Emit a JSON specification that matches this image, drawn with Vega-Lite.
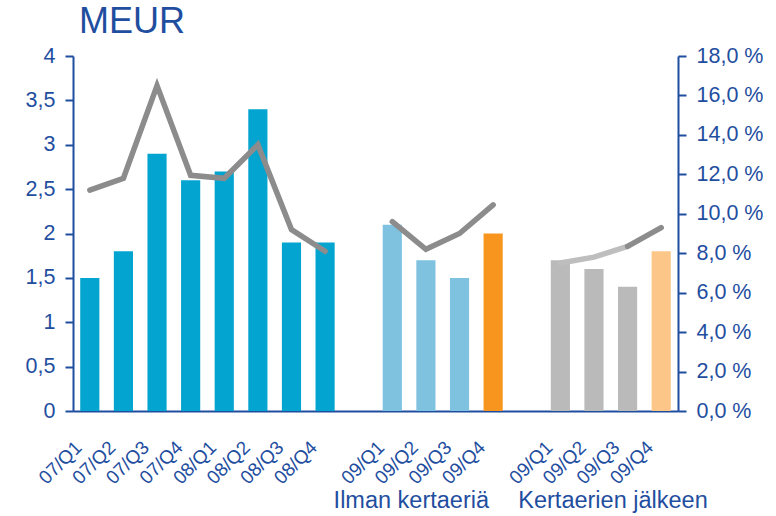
{
  "$schema": "https://vega.github.io/schema/vega-lite/v6.json",
  "width": 605,
  "height": 355,
  "autosize": {"type": "none"},
  "padding": {"left": 73, "top": 56, "right": 98, "bottom": 105},
  "background": "white",
  "title": {"text": "MEUR", "anchor": "start", "frame": "group", "fontSize": 36, "font": "Liberation Sans", "fontWeight": "normal", "color": "#1F4E9F", "dx": 6, "offset": -24, "baseline": "alphabetic"},
  "config": {"view": {"stroke": null}, "font": "Liberation Sans"},
  "datasets": {
    "bars": [
      {"k": "07/Q1", "s": "hist", "v": 1.5},
      {"k": "07/Q2", "s": "hist", "v": 1.8},
      {"k": "07/Q3", "s": "hist", "v": 2.9},
      {"k": "07/Q4", "s": "hist", "v": 2.6},
      {"k": "08/Q1", "s": "hist", "v": 2.7},
      {"k": "08/Q2", "s": "hist", "v": 3.4},
      {"k": "08/Q3", "s": "hist", "v": 1.9},
      {"k": "08/Q4", "s": "hist", "v": 1.9},
      {"k": "b:09/Q1", "s": "ilman", "v": 2.1},
      {"k": "b:09/Q2", "s": "ilman", "v": 1.7},
      {"k": "b:09/Q3", "s": "ilman", "v": 1.5},
      {"k": "b:09/Q4", "s": "ilmanQ4", "v": 2.0},
      {"k": "c:09/Q1", "s": "kerta", "v": 1.7},
      {"k": "c:09/Q2", "s": "kerta", "v": 1.6},
      {"k": "c:09/Q3", "s": "kerta", "v": 1.4},
      {"k": "c:09/Q4", "s": "kertaQ4", "v": 1.8}
    ],
    "lines": [
      {"k": "07/Q1", "s": "A", "p": 11.2},
      {"k": "07/Q2", "s": "A", "p": 11.8},
      {"k": "07/Q3", "s": "A", "p": 16.5},
      {"k": "07/Q4", "s": "A", "p": 11.95},
      {"k": "08/Q1", "s": "A", "p": 11.8},
      {"k": "08/Q2", "s": "A", "p": 13.5},
      {"k": "08/Q3", "s": "A", "p": 9.2},
      {"k": "08/Q4", "s": "A", "p": 8.1},
      {"k": "b:09/Q1", "s": "B", "p": 9.6},
      {"k": "b:09/Q2", "s": "B", "p": 8.2},
      {"k": "b:09/Q3", "s": "B", "p": 9.0},
      {"k": "b:09/Q4", "s": "B", "p": 10.45},
      {"k": "c:09/Q1", "s": "C1", "p": 7.5},
      {"k": "c:09/Q2", "s": "C1", "p": 7.8},
      {"k": "c:09/Q3", "s": "C1", "p": 8.35},
      {"k": "c:09/Q3", "s": "C2", "p": 8.35},
      {"k": "c:09/Q4", "s": "C2", "p": 9.3}
    ],
    "groups": [
      {"k": "b:09/Q2", "t": "Ilman kertaeriä"},
      {"k": "c:09/Q3", "t": "Kertaerien jälkeen"}
    ]
  },
  "layer": [
    {
      "data": {"name": "bars"},
      "mark": {"type": "bar"},
      "encoding": {
        "x": {
          "field": "k", "type": "nominal", "sort": null,
          "scale": {
            "domain": ["07/Q1", "07/Q2", "07/Q3", "07/Q4", "08/Q1", "08/Q2", "08/Q3", "08/Q4", "g1", "b:09/Q1", "b:09/Q2", "b:09/Q3", "b:09/Q4", "g2", "c:09/Q1", "c:09/Q2", "c:09/Q3", "c:09/Q4"],
            "paddingInner": 0.43, "paddingOuter": 0.215
          },
          "axis": {
            "title": null, "ticks": false, "domainColor": "#1F4E9F", "domainWidth": 2,
            "labelAngle": -45, "labelAlign": "right", "labelBaseline": "middle", "labelPadding": 33, "labelOffset": -11,
            "labelFontSize": 19, "labelColor": "#1F4E9F", "labelFont": "Liberation Sans",
            "labelExpr": "indexof(datum.value, 'g') == 0 ? '' : replace(replace(datum.value, 'b:', ''), 'c:', '')"
          }
        },
        "y": {
          "field": "v", "type": "quantitative",
          "scale": {"domain": [0, 4], "nice": false},
          "axis": {
            "title": null, "values": [0, 0.5, 1, 1.5, 2, 2.5, 3, 3.5, 4], "format": ".1~f",
            "labelExpr": "replace(datum.label, '.', ',')",
            "grid": false, "domainColor": "#1F4E9F", "domainWidth": 2, "tickColor": "#1F4E9F", "tickWidth": 2, "tickSize": 8,
            "labelPadding": 10, "labelFontSize": 21.5, "labelColor": "#1F4E9F", "labelFont": "Liberation Sans",
            "encode": {"ticks": {"update": {"x": {"value": 8}}}}
          }
        },
        "color": {
          "field": "s", "type": "nominal", "legend": null,
          "scale": {
            "domain": ["hist", "ilman", "ilmanQ4", "kerta", "kertaQ4", "A", "B", "C1", "C2"],
            "range": ["#04A4D0", "#7EC2E0", "#F7951F", "#BABABA", "#FCC688", "#8C8C8C", "#8C8C8C", "#BEBEBE", "#8C8C8C"]
          }
        }
      }
    },
    {
      "data": {"name": "lines"},
      "mark": {"type": "line", "strokeWidth": 5.5, "strokeCap": "round", "strokeJoin": "miter"},
      "encoding": {
        "x": {"field": "k", "type": "nominal", "sort": null},
        "y": {
          "field": "p", "type": "quantitative",
          "scale": {"domain": [0, 18], "nice": false},
          "axis": {
            "orient": "right", "title": null, "values": [0, 2, 4, 6, 8, 10, 12, 14, 16, 18],
            "labelExpr": "replace(format(datum.value, '.1f'), '.', ',') + ' %'",
            "grid": false, "domainColor": "#1F4E9F", "domainWidth": 2, "tickColor": "#1F4E9F", "tickWidth": 2, "tickSize": 8,
            "labelPadding": 10, "labelFontSize": 21.5, "labelColor": "#1F4E9F", "labelFont": "Liberation Sans",
            "encode": {"ticks": {"update": {"x": {"value": -8}}}}
          }
        },
        "color": {"field": "s", "type": "nominal", "legend": null}
      }
    },
    {
      "data": {"name": "groups"},
      "mark": {"type": "text", "y": "height", "dy": 90, "dx": -5, "fontSize": 23.5, "font": "Liberation Sans", "color": "#1F4E9F", "align": "center", "baseline": "middle"},
      "encoding": {
        "x": {"field": "k", "type": "nominal", "sort": null, "bandPosition": 0},
        "text": {"field": "t"}
      }
    }
  ],
  "resolve": {"scale": {"y": "independent"}}
}
